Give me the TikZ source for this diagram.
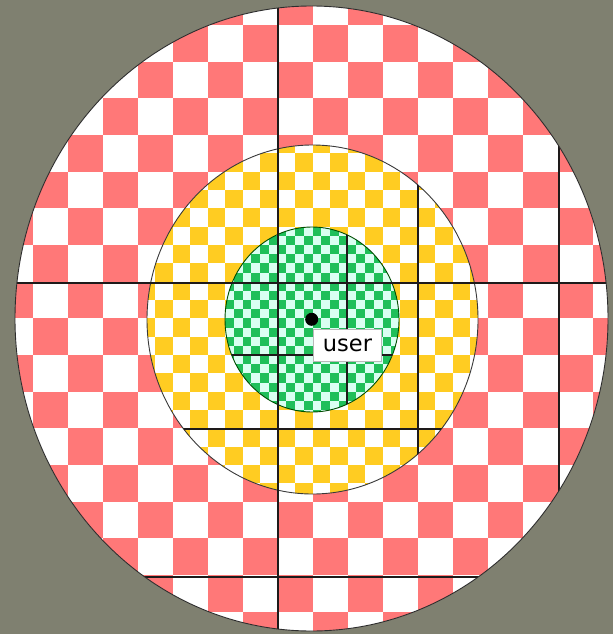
\documentclass[tikz,border=0pt]{standalone}
\usepackage{fontspec}
\newfontfamily\labelfont{DejaVu Sans}
\definecolor{bgc}{HTML}{7F8070}
\definecolor{redc}{HTML}{FF7878}
\definecolor{yelc}{HTML}{FFCC22}
\definecolor{grnc}{HTML}{1FBF5A}
\definecolor{mint}{HTML}{DAFFF2}
\definecolor{gridc}{HTML}{1E1A1A}
\tikzset{
  gridline/.style={draw=gridc, line width=1.2pt},
  rim/.style={draw=#1, line width=0.9pt},
  userlabel/.style={draw=gray!55, fill=white, minimum width=68pt, minimum height=32pt, inner sep=0pt,
    font=\labelfont\fontsize{22.5}{24}\selectfont},
  userdot/.style={circle, fill=black, inner sep=0pt, minimum size=13pt}
}
\begin{document}
\begin{tikzpicture}[x=1pt,y=-1pt]
\fill[bgc] (0,0) rectangle (613,634);
\useasboundingbox (0,0) rectangle (613,634);
% outer red disc
\begin{scope}
  \clip (311.5,318.5) ellipse [x radius=296.5, y radius=312.5];
  \fill[white] (0,0) rectangle (613,634);
  \foreach \i in {-1,...,16} \foreach \j in {-1,...,16} {
    \ifodd\numexpr\i+\j+4\relax\else
      \fill[redc] ({32.5+35*\i},{25+36.6667*\j}) rectangle ++(35,36.6667);
    \fi
  }
\end{scope}
% yellow disc
\begin{scope}
  \clip (312.5,319.5) ellipse [x radius=165.5, y radius=174.5];
  \fill[white] (140,140) rectangle (485,500);
  \foreach \i in {6,...,25} \foreach \j in {6,...,25} {
    \ifodd\numexpr\i+\j\relax\else
      \fill[yelc] ({32.5+17.5*\i},{25+18.3333*\j}) rectangle ++(17.5,18.3333);
    \fi
  }
\end{scope}
% green disc
\begin{scope}
  \clip (312,319.5) ellipse [x radius=87, y radius=92.5];
  \fill[mint] (220,220) rectangle (405,420);
  \foreach \i in {21,...,42} \foreach \j in {21,...,42} {
    \ifodd\numexpr\i+\j\relax\else
      \fill[grnc] ({32.5+8.75*\i},{25+9.16667*\j}) rectangle ++(8.75,9.16667);
    \fi
  }
\end{scope}
% rims
\draw[rim=gray!45!black] (312.5,319.5) ellipse [x radius=165.5, y radius=174.5];
\draw[rim=green!30!black] (312,319.5) ellipse [x radius=87, y radius=92.5];
% grid lines of the green level
\begin{scope}
  \clip (312,319.5) ellipse [x radius=87, y radius=92.5];
  \draw[gridline] (347,200) -- (347,440);
  \draw[gridline] (200,355) -- (420,355);
\end{scope}
% grid lines of the yellow level
\begin{scope}
  \clip (312.5,319.5) ellipse [x radius=165.5, y radius=174.5];
  \draw[gridline] (418,120) -- (418,520);
  \draw[gridline] (120,429) -- (500,429);
\end{scope}
% grid lines of the red level
\begin{scope}
  \clip (311.5,318.5) ellipse [x radius=296.5, y radius=312.5];
  \draw[gridline] (278,0) -- (278,634);
  \draw[gridline] (559,0) -- (559,634);
  \draw[gridline] (0,283) -- (613,283);
  \draw[gridline] (0,577) -- (613,577);
\end{scope}
\draw[rim=gray!35!black] (311.5,318.5) ellipse [x radius=296.5, y radius=312.5];
% user
\node[userlabel] (lbl) at (347.5,345) {user};
\node[userdot] (user) at (311.7,319.3) {};
\end{tikzpicture}
\end{document}
